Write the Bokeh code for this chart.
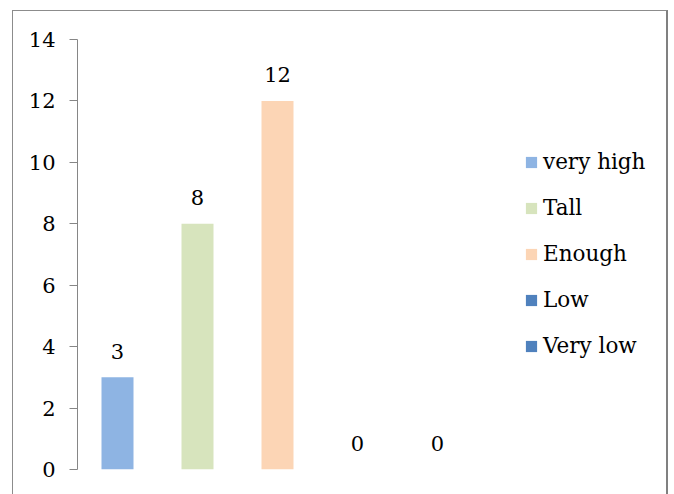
from bokeh.plotting import figure
from bokeh.models import ColumnDataSource, Range1d, FixedTicker, Legend, LegendItem
from bokeh.core.properties import value
from bokeh.embed import file_html
from bokeh.resources import INLINE

# Survey answers and their counts
categories = ["very high", "Tall", "Enough", "Low", "Very low"]
counts = [3, 8, 12, 0, 0]
colors = ["#8EB4E3", "#D7E4BD", "#FCD5B5", "#4F81BD", "#4F81BD"]
y_ticks = [0, 2, 4, 6, 8, 10, 12, 14]

FONT = "DejaVu Serif"

source = ColumnDataSource(dict(
    x=[i + 0.5 for i in range(len(categories))],
    top=counts,
    color=colors,
    category=categories,
    label=[str(c) for c in counts],
))

p = figure(
    width=656, height=488,
    x_range=Range1d(0, 7.4), y_range=Range1d(0, 14),
    output_backend="svg", toolbar_location=None,
    min_border_left=64, min_border_right=0,
    min_border_top=28, min_border_bottom=30,
)
p.margin = (10, 0, 0, 12)
p.styles = {
    "border-top": "1px solid #8c8c8c",
    "border-left": "1px solid #8c8c8c",
    "border-right": "2px solid #808080",
}

p.outline_line_color = None
p.xgrid.visible = False
p.ygrid.visible = False
p.xaxis.visible = False

ax = p.yaxis[0]
ax.ticker = FixedTicker(ticks=y_ticks)
ax.axis_line_color = "#868686"
ax.major_tick_line_color = "#868686"
ax.major_tick_out = 8
ax.major_tick_in = 0
ax.minor_tick_line_color = None
ax.major_label_text_font = FONT
ax.major_label_text_font_size = "21px"
ax.major_label_text_color = "#000000"
ax.major_label_standoff = 14

bars = p.vbar(x="x", top="top", width=0.4, bottom=0, source=source,
              fill_color="color", line_color=None)

p.text(x="x", y="top", text="label", source=source,
       text_font=value(FONT), text_font_size="21px", text_color="#000000",
       text_align="center", text_baseline="alphabetic", y_offset=-26)

items = [LegendItem(label=c, renderers=[bars], index=i) for i, c in enumerate(categories)]
legend = Legend(
    items=items, location=(447, 111),
    glyph_width=14, glyph_height=14, label_height=20,
    spacing=21, padding=0, margin=0, label_standoff=5,
    label_text_font=FONT, label_text_font_size="21.5px",
    label_text_color="#000000",
    border_line_color=None, background_fill_alpha=0,
)
p.add_layout(legend)

open("out.html", "w").write(file_html(p, INLINE))
